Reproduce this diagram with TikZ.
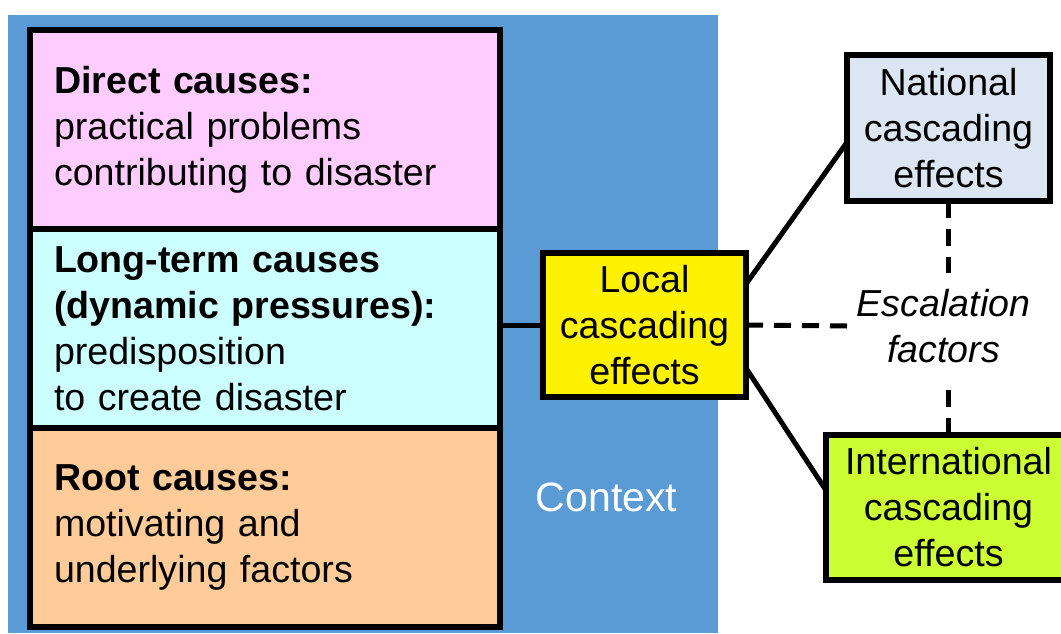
\documentclass[tikz,border=0pt]{standalone}
\usepackage{fontspec}
\setmainfont{Liberation Sans}
\usetikzlibrary{positioning}
\definecolor{ctxblue}{HTML}{5B9BD5}
\definecolor{directpink}{HTML}{FFCCFF}
\definecolor{longcyan}{HTML}{CCFFFF}
\definecolor{rootorange}{HTML}{FFCC99}
\definecolor{natblue}{HTML}{DCE6F2}
\definecolor{intlgreen}{HTML}{CCFF33}

\begin{document}
\begin{tikzpicture}[x=1pt, y=-1pt, line width=5pt,
      big/.style={font=\fontsize{37.6}{46}\selectfont},
      cause/.style={big, draw, line width=6pt, outer sep=0pt, anchor=north west,
        minimum width=470pt, minimum height=199pt, inner xsep=24pt, text width=422pt, align=left},
      effect/.style={big, draw, line width=6pt, outer sep=0pt, align=center,
        minimum width=203pt, minimum height=145pt, inner sep=0pt},
      dashline/.style={dash pattern=on 17pt off 11pt}]
  \clip (0,0) rectangle (1061,633);
  \fill[ctxblue] (8,15) rectangle (718,633);
  % causes
  \node[cause, fill=directpink] (direct) at (30,30)
        {\textbf{Direct causes:}\\practical problems\\contributing to disaster};
  \node[cause, fill=longcyan, below=0pt of direct] (long)
        {\textbf{Long-term causes}\\\textbf{(dynamic pressures):}\\predisposition\\to create disaster};
  \node[cause, fill=rootorange, below=0pt of long] (root)
        {\textbf{Root causes:}\\motivating and\\underlying factors};
  \node[text=white, font=\fontsize{41}{49}\selectfont] (context) at (606.5,497) {Context};
  % effects
  \node[effect, fill=yellow, minimum height=144pt] (local) at (644.5,325) {Local\\cascading\\effects};
  \node[effect, fill=natblue, minimum height=146pt] (national) at (948.5,128) {National\\cascading\\effects};
  \node[effect, fill=intlgreen, minimum width=245pt] (intl) at (948.5,507.5) {International\\cascading\\effects};
  \node[font={\fontsize{37.6}{46}\selectfont\itshape}, align=center, inner xsep=7pt, inner ysep=14pt]
        (esc) at (943.5,326) {Escalation\\factors};
  \draw (local.west) -- (local.west -| long.east);
  \draw (local.22) -- (national.188);
  \draw (local.-23) -- (intl.172);
  \draw[dashline] (local.east) -- (esc.west);
  \draw[dashline] (national.south) -- (national.south |- esc.north);
  \draw[dashline] (intl.north) -- (intl.north |- esc.south);
\end{tikzpicture}
\end{document}
